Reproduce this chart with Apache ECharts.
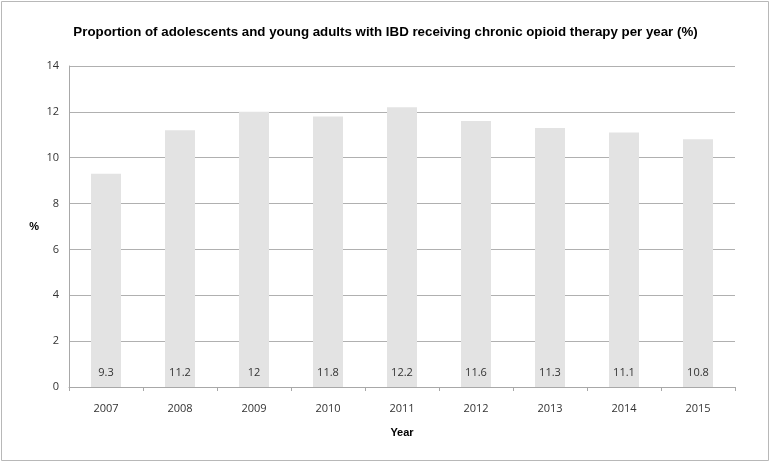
<!DOCTYPE html>
<html><head><meta charset="utf-8">
<script src="https://cdn.jsdelivr.net/npm/echarts@6/dist/echarts.min.js"></script>
<style>html,body{margin:0;padding:0;background:#fff}#c{width:771px;height:463px}</style>
</head><body><div id="c"></div>
<script>
const categories = ['2007','2008','2009','2010','2011','2012','2013','2014','2015'];
const values = [9.3, 11.2, 12, 11.8, 12.2, 11.6, 11.3, 11.1, 10.8];
const titleText = 'Proportion of adolescents and young adults with IBD receiving chronic opioid therapy per year (%)';

const chart = echarts.init(document.getElementById('c'), null, {renderer:'canvas'});
chart.setOption({
  animation: false,
  backgroundColor: '#fff',
  title: {
    text: titleText, left: 'center', top: 21,
    textStyle: {fontFamily: 'Liberation Sans', fontWeight: 'bold', fontSize: 13.3, color: '#000'}
  },
  graphic: [{type:'rect', shape:{x:1.5,y:1.5,width:767,height:459}, style:{fill:'none', stroke:'#b8b8b8', lineWidth:1}, silent:true}],
  grid: {left: 69, right: 36, top: 66, bottom: 76},
  xAxis: {
    type: 'category', data: categories,
    name: 'Year', nameLocation: 'middle', nameGap: 40,
    nameTextStyle: {fontFamily:'Liberation Sans', fontWeight:'bold', fontSize:11, color:'#000'},
    axisLine: {lineStyle:{color:'#a8a8a8'}},
    axisTick: {show:true, length:4, lineStyle:{color:'#a8a8a8'}},
    axisLabel: {fontFamily:'Open Sans', fontSize:11, color:'#333', margin:16}
  },
  yAxis: {
    type: 'value', min: 0, max: 14, interval: 2,
    name: '%', nameLocation: 'middle', nameGap: 30, nameRotate: 0,
    nameTextStyle: {fontFamily:'Liberation Sans', fontWeight:'bold', fontSize:11, color:'#000'},
    axisLine: {show:true, lineStyle:{color:'#a8a8a8'}},
    axisTick: {show:false},
    splitLine: {lineStyle:{color:'#b0b0b0'}},
    axisLabel: {fontFamily:'Open Sans', fontSize:11, color:'#333', margin:10}
  },
  series: [{
    type: 'bar', data: values, barWidth: 30,
    itemStyle: {color: '#e3e3e3'},
    label: {show:true, position:'insideBottom', distance: 9, fontFamily:'Open Sans', fontSize:11, color:'#333'}
  }]
});
</script></body></html>
